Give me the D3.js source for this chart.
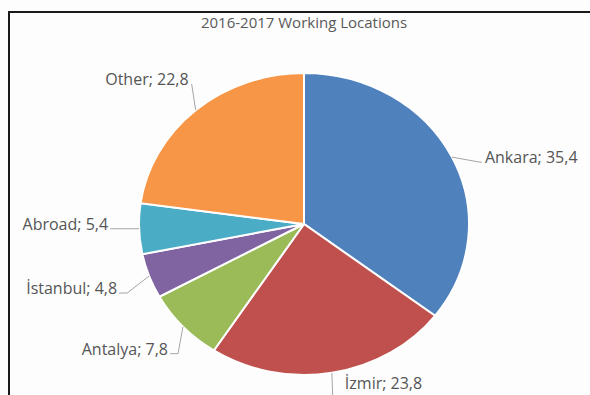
<!DOCTYPE html>
<html lang="en">
<head>
<meta charset="UTF-8">
<title>2016-2017 Working Locations</title>
<style>
  html, body { margin: 0; padding: 0; background: #fdfdfd; }
  svg { display: block; }
  .label { font: 16px "Open Sans", sans-serif; fill: #555555; }
  .title { font: 15px "Open Sans", sans-serif; fill: #595959; }
  .leader { fill: none; stroke: #a6a6a6; stroke-width: 1; }
</style>
</head>
<body>
<script src="https://d3js.org/d3.v7.min.js"></script>
<script>
// data
var locations = ["Ankara", "İzmir", "Antalya", "İstanbul", "Abroad", "Other"];
var shares = [35.4, 23.8, 7.8, 4.8, 5.4, 22.8];
var colors = ["#4f81bd", "#c0504d", "#9bbb59", "#8064a2", "#4bacc6", "#f79646"];

// leader layout: elbow offset from slice edge, tail length (sign = side)
var elbow = [[28, 5], [1, 28], [-5, 27], [-22, 17], [0, 0], [-4, -26]];
var tail = [2, 0, -8, -8, -29, 0];

var width = 590, height = 395;
var cx = 304, cy = 224, rx = 165, ry = 151;

var svg = d3.select("body").append("svg")
  .attr("width", width)
  .attr("height", height);

// frame
svg.append("path")
  .attr("d", "M9,400 V12 H600")
  .attr("fill", "none")
  .attr("stroke", "#1a1a1a")
  .attr("stroke-width", 2);

svg.append("text")
  .attr("class", "title")
  .attr("x", cx)
  .attr("y", 28)
  .attr("text-anchor", "middle")
  .text("2016-2017 Working Locations");

var pie = d3.pie().sort(null).value(function(d) { return d; });
var arcs = pie(shares);
var arc = d3.arc().innerRadius(0).outerRadius(ry);

var g = svg.append("g")
  .attr("transform", "translate(" + cx + "," + cy + ") scale(" + (rx / ry) + ",1)");

g.selectAll("path")
  .data(arcs)
  .enter().append("path")
  .attr("d", arc)
  .attr("fill", function(d, i) { return colors[i]; })
  .attr("stroke", "#ffffff")
  .attr("stroke-width", 2)
  .attr("vector-effect", "non-scaling-stroke");

function edgePoint(d) {
  var a = (d.startAngle + d.endAngle) / 2;
  return [cx + rx * Math.sin(a), cy - ry * Math.cos(a)];
}

arcs.forEach(function(d, i) {
  var p = edgePoint(d);
  var e = [p[0] + elbow[i][0], p[1] + elbow[i][1]];
  var t = [e[0] + tail[i], e[1]];
  svg.append("path")
    .attr("class", "leader")
    .attr("d", d3.line()([p, e, t]));

  var right = p[0] > cx;
  var tx, ty, anchor;
  if (i === 1) {            // label below the pie
    tx = e[0] + 12; ty = height - 6; anchor = "start";
  } else if (i === 5) {     // label above the leader
    tx = e[0] - 3; ty = e[1] + 1; anchor = "end";
  } else {
    tx = t[0] + (right ? 3 : -2); ty = t[1] + 1; anchor = right ? "start" : "end";
  }
  svg.append("text")
    .attr("class", "label")
    .attr("x", tx)
    .attr("y", ty)
    .attr("text-anchor", anchor)
    .text(locations[i] + "; " + String(shares[i]).replace(".", ","));
});
</script>
</body>
</html>
